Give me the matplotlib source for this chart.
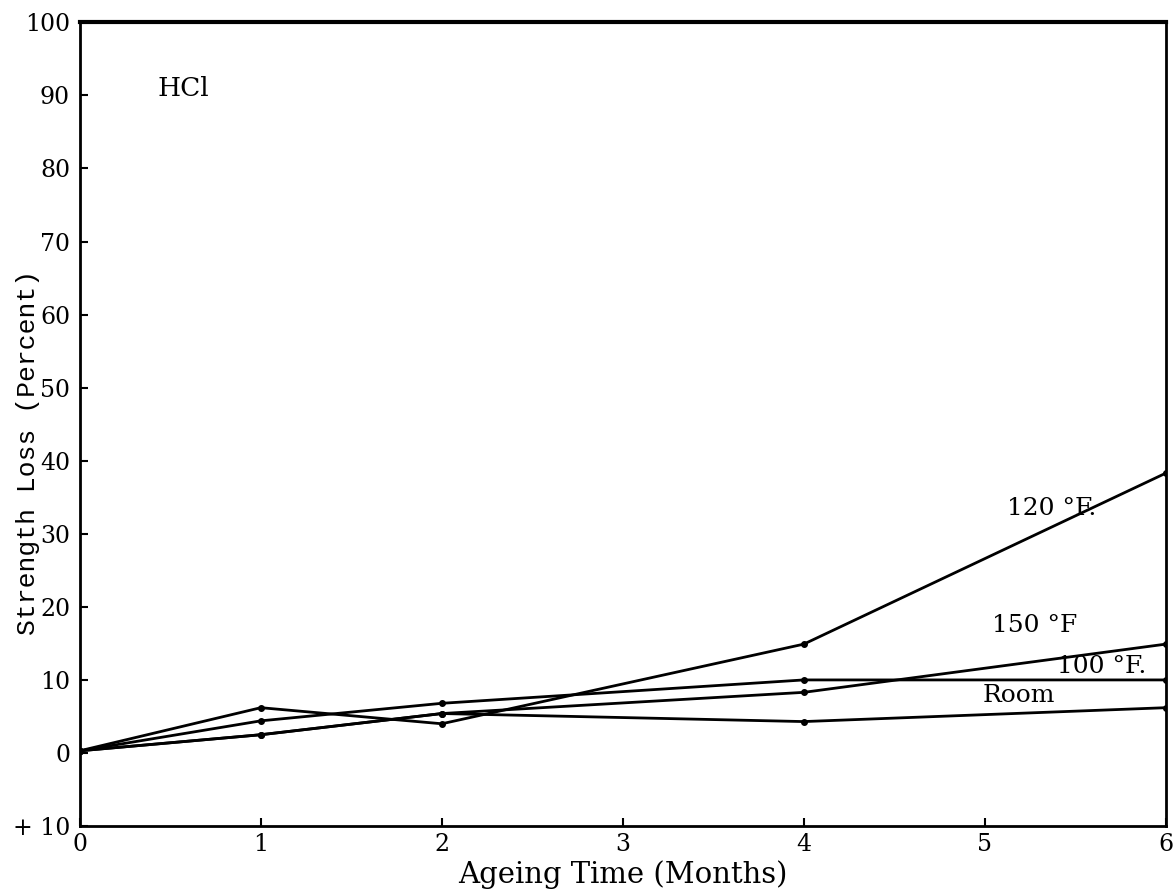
import matplotlib
matplotlib.use("Agg")
import matplotlib.pyplot as plt

months = [0, 1, 2, 4, 6]
loss_120F = [0.3, 6.2, 4.0, 14.9, 38.3]
loss_150F = [0.3, 2.5, 5.4, 8.3, 14.9]
loss_100F = [0.3, 4.4, 6.8, 10.0, 10.0]
loss_room = [0.3, 2.5, 5.4, 4.3, 6.2]

series = [loss_120F, loss_150F, loss_100F, loss_room]
series_labels = ["120 °F.", "150 °F", "100 °F.", "Room"]
label_pos = [(5.12, 33.5), (5.04, 17.5), (5.4, 11.8), (4.99, 7.9)]

x_ticks = [0, 1, 2, 3, 4, 5, 6]
y_ticks = [-10, 0, 10, 20, 30, 40, 50, 60, 70, 80, 90, 100]
y_tick_labels = ["+ 10", "0", "10", "20", "30", "40", "50", "60", "70", "80", "90", "100"]

serif = ["DejaVu Serif"]

fig = plt.figure(figsize=(11.74, 8.94), dpi=100)
ax = fig.add_axes([0.068, 0.076, 0.925, 0.899])

for vals in series:
    ax.plot(months, vals, color="black", lw=2.0, marker="o", ms=4)

for txt, (tx, ty) in zip(series_labels, label_pos):
    ax.text(tx, ty, txt, fontsize=18, family=serif, va="center", ha="left")

ax.text(0.43, 90.9, "HCl", fontsize=19, family=serif, va="center", ha="left")

ax.set_xlim(0, 6)
ax.set_ylim(-10, 100)
ax.set_xticks(x_ticks)
ax.set_xticklabels([str(v) for v in x_ticks], family=serif, fontsize=17)
ax.set_yticks(y_ticks)
ax.set_yticklabels(y_tick_labels, family=serif, fontsize=17)
ax.tick_params(direction="in", length=6, width=1.5)
ax.tick_params(axis="y", pad=7)
ax.tick_params(axis="x", pad=5)
for s in ax.spines.values():
    s.set_linewidth(2)
ax.spines["top"].set_linewidth(3)

ax.set_xlabel("Ageing Time (Months)", family=serif, fontsize=21)
ax.xaxis.set_label_coords(0.5, -0.042)
ax.set_ylabel("Strength Loss (Percent)", family=["Liberation Mono"], fontsize=19)
ax.yaxis.set_label_coords(-0.037, 0.465)

fig.savefig("out.png", dpi=100)
